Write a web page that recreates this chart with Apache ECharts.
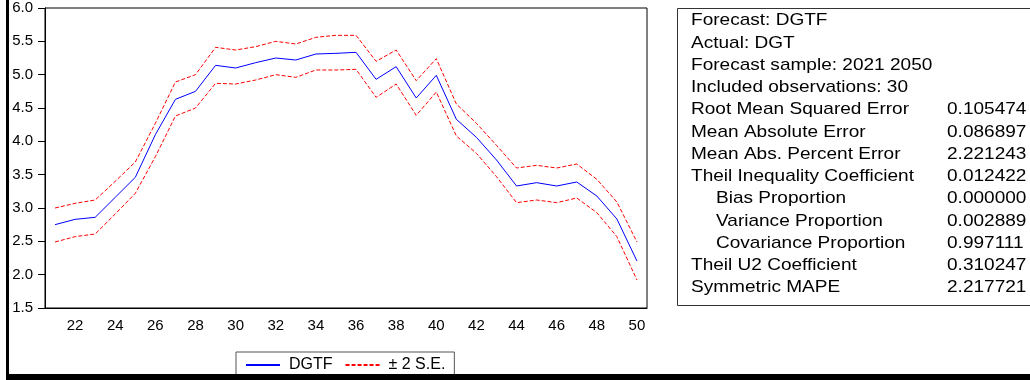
<!DOCTYPE html>
<html>
<head>
<meta charset="utf-8">
<script src="https://cdn.jsdelivr.net/npm/echarts@6/dist/echarts.min.js"></script>
<style>
    html, body { margin: 0; padding: 0; background: #fff; }
    #forecast-chart { width: 1030px; height: 380px; }
</style>
</head>
<body>
<div id="forecast-chart"></div>
<script>
// years 2021..2050, shown as two digits
var years = ['21', '22', '23', '24', '25', '26', '27', '28', '29', '30',
             '31', '32', '33', '34', '35', '36', '37', '38', '39', '40',
             '41', '42', '43', '44', '45', '46', '47', '48', '49', '50'];

var dgtf = [2.75, 2.83, 2.86, 3.16, 3.46, 4.10, 4.63, 4.75, 5.14, 5.10,
            5.18, 5.25, 5.22, 5.31, 5.32, 5.335, 4.93, 5.12, 4.65, 4.99,
            4.33, 4.06, 3.72, 3.33, 3.38, 3.33, 3.39, 3.18, 2.835, 2.205];

var upperSE = [3.00, 3.07, 3.12, 3.40, 3.69, 4.27, 4.89, 5.00, 5.41, 5.37,
               5.42, 5.50, 5.46, 5.56, 5.59, 5.59, 5.20, 5.37, 4.91, 5.24,
               4.56, 4.27, 3.94, 3.60, 3.64, 3.60, 3.66, 3.43, 3.09, 2.49];

var lowerSE = [2.49, 2.57, 2.61, 2.91, 3.22, 3.77, 4.38, 4.50, 4.87, 4.86,
               4.92, 5.00, 4.96, 5.07, 5.07, 5.08, 4.66, 4.86, 4.39, 4.74,
               4.08, 3.82, 3.47, 3.08, 3.12, 3.08, 3.15, 2.93, 2.57, 1.92];

var yTicks = ['1.5', '2.0', '2.5', '3.0', '3.5', '4.0', '4.5', '5.0', '5.5', '6.0'];

// forecast evaluation table on the right
var statLabels = ['Forecast: DGTF', 'Actual: DGT', 'Forecast sample: 2021 2050',
                  'Included observations: 30', 'Root Mean Squared Error',
                  'Mean Absolute Error', 'Mean Abs. Percent Error',
                  'Theil Inequality Coefficient', 'Bias Proportion',
                  'Variance Proportion', 'Covariance Proportion',
                  'Theil U2 Coefficient', 'Symmetric MAPE'];
var statValues = ['', '', '', '', '0.105474', '0.086897', '2.221243', '0.012422',
                  '0.000000', '0.002889', '0.997111', '0.310247', '2.217721'];
var statIndent = [0, 0, 0, 0, 0, 0, 0, 0, 1, 1, 1, 0, 0];

var FONT = 'Liberation Sans, Arial, sans-serif';

function statText(str, x, y) {
    // the source text is a bit wider than Arial, so stretch it slightly
    return {
        type: 'text', x: x, y: y, scaleX: 1.12, silent: true,
        style: {
            text: str, x: 0, y: 0,
            fill: '#000', fontSize: 17, fontFamily: FONT, verticalAlign: 'middle'
        }
    };
}

function buildStatsBox() {
    var items = [];
    items.push({
        type: 'rect',
        shape: { x: 677.5, y: 8.5, width: 400, height: 297 },
        style: { fill: 'none', stroke: '#333', lineWidth: 1 },
        silent: true
    });
    for (var i = 0; i < statLabels.length; i++) {
        var y = 20.7 + 22.25 * i;
        items.push(statText(statLabels[i], statIndent[i] ? 716 : 691, y));
        if (statValues[i]) {
            items.push(statText(statValues[i], 947, y));
        }
    }
    // heavy frame lines at left and bottom
    items.push({
        type: 'rect', z: 100,
        shape: { x: 6, y: 0, width: 3, height: 380 },
        style: { fill: '#000' }, silent: true
    });
    items.push({
        type: 'rect', z: 100,
        shape: { x: 6, y: 374, width: 1024, height: 6 },
        style: { fill: '#000' }, silent: true
    });
    return items;
}

var chart = echarts.init(document.getElementById('forecast-chart'));

var option = {
    animation: false,
    backgroundColor: '#fff',
    grid: {
        left: 45, top: 8, width: 602, height: 300,
        show: true, borderColor: '#000', borderWidth: 1
    },
    legend: {
        left: 236, top: 352,
        padding: [5, 9, 5, 9],
        itemGap: 12, itemWidth: 34, itemHeight: 12,
        borderColor: '#555', borderWidth: 1,
        itemStyle: { color: 'rgba(0,0,0,0)', borderWidth: 0, opacity: 0 },
        textStyle: { color: '#000', fontSize: 16, fontFamily: FONT, padding: [0, 0, 0, 4] },
        data: ['DGTF', '± 2 S.E.']
    },
    xAxis: {
        type: 'category',
        data: years,
        boundaryGap: true,
        axisLine: { lineStyle: { color: '#000', width: 1 } },
        axisTick: { interval: 0, length: 6, lineStyle: { color: '#000' } },
        axisLabel: {
            interval: function (index) { return index % 2 === 1; },
            color: '#000', fontSize: 15, fontFamily: FONT, margin: 10
        },
        splitLine: { show: false }
    },
    yAxis: {
        type: 'value',
        min: 1.5, max: 6.0, interval: 0.5,
        axisLine: { show: true, lineStyle: { color: '#000', width: 1 } },
        axisTick: { show: true, length: 7, lineStyle: { color: '#000' } },
        axisLabel: {
            color: '#000', fontSize: 15, fontFamily: FONT, margin: 12,
            formatter: function (v) { return yTicks[Math.round((v - 1.5) / 0.5)]; }
        },
        splitLine: { show: false }
    },
    series: [
        {
            name: 'DGTF', type: 'line', data: dgtf,
            symbol: 'none', lineStyle: { color: '#0000ff', width: 1 },
            itemStyle: { color: '#0000ff' }
        },
        {
            name: '± 2 S.E.', type: 'line', data: upperSE,
            symbol: 'none', lineStyle: { color: '#ff0000', width: 1, type: [4, 2] },
            itemStyle: { color: '#ff0000' }
        },
        {
            name: '± 2 S.E.', type: 'line', data: lowerSE,
            symbol: 'none', lineStyle: { color: '#ff0000', width: 1, type: [4, 2] },
            itemStyle: { color: '#ff0000' }
        }
    ],
    graphic: buildStatsBox()
};

option && chart.setOption(option);
</script>
</body>
</html>
